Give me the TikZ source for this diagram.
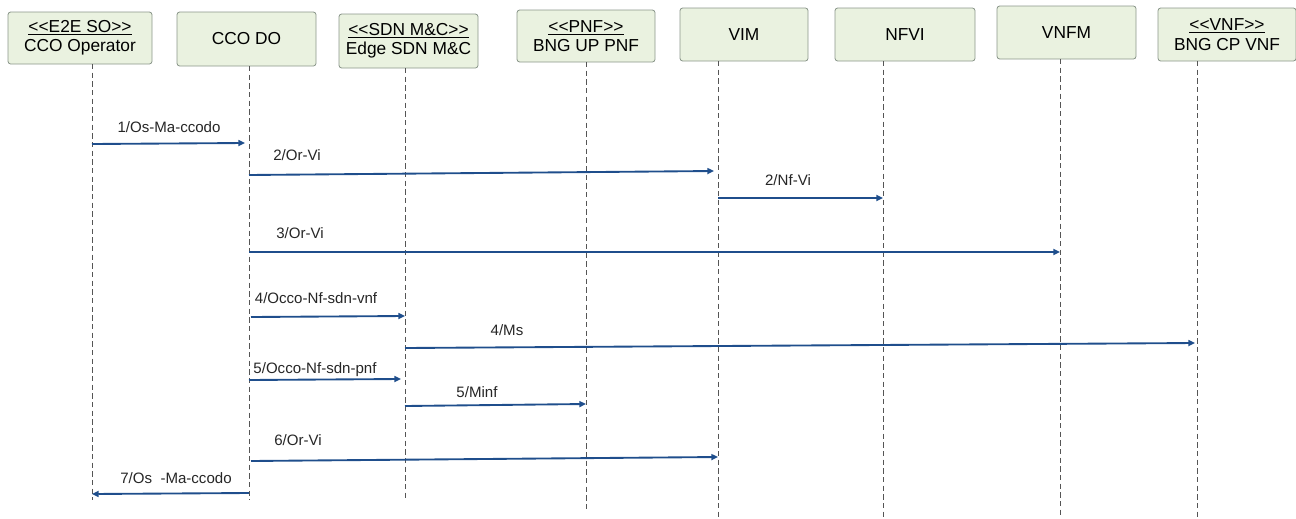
\documentclass[tikz,border=0pt]{standalone}
\usepackage{fontspec}
\setmainfont{Liberation Sans}[Ligatures=NoCommon]
\usetikzlibrary{arrows.meta}
\definecolor{boxfill}{HTML}{EAF2E0}
\definecolor{boxline}{HTML}{8A968A}
\definecolor{msgblue}{HTML}{1F4E8C}
\definecolor{lifegray}{HTML}{555555}
\newcommand{\stereo}[1]{\underline{<{}<#1>{}>}}
\begin{document}
\begin{tikzpicture}[x=0.75pt,y=-0.75pt,
  actor/.style={draw=boxline,fill=boxfill,rounded corners=2pt,line width=0.6pt,
    inner sep=0pt,align=center,font=\fontsize{13}{14.5}\selectfont},
  lifeline/.style={draw=lifegray,line width=0.5pt,dash pattern=on 4pt off 2.5pt},
  msg/.style={draw=msgblue,line width=1.4pt,-{Triangle[length=5pt,width=4.5pt]}},
  lbl/.style={font=\fontsize{11.3}{13}\selectfont,text=black!85,inner sep=0pt}]
\useasboundingbox (0,0) rectangle (1296,518);
% actors
\node[actor,minimum width=144*0.75pt,minimum height=52*0.75pt] (so) at (80,38) {\stereo{E2E SO}\\CCO Operator};
\node[actor,minimum width=139*0.75pt,minimum height=54*0.75pt] (do) at (246.5,39) {CCO DO};
\node[actor,minimum width=139*0.75pt,minimum height=54*0.75pt] (sdn) at (408.5,41) {\stereo{SDN M\&C}\\Edge SDN M\&C};
\node[actor,minimum width=138*0.75pt,minimum height=52*0.75pt] (pnf) at (586,36) {\stereo{PNF}\\BNG UP PNF};
\node[actor,minimum width=128*0.75pt,minimum height=53*0.75pt] (vim) at (744,34.5) {VIM};
\node[actor,minimum width=140*0.75pt,minimum height=53*0.75pt] (nfvi) at (905,34.5) {NFVI};
\node[actor,minimum width=139*0.75pt,minimum height=53*0.75pt] (vnfm) at (1066.5,32.5) {VNFM};
\node[actor,minimum width=138*0.75pt,minimum height=53*0.75pt] (vnf) at (1227,34.5) {\stereo{VNF}\\BNG CP VNF};
% lifeline ends
\coordinate (soE) at (92,500);
\coordinate (doE) at (249,500);
\coordinate (sdnE) at (405,500);
\coordinate (pnfE) at (586,510);
\coordinate (vimE) at (718,518);
\coordinate (nfviE) at (883,518);
\coordinate (vnfmE) at (1060,518);
\coordinate (vnfE) at (1197,518);
\draw[lifeline] (92,64) -- (soE);
\draw[lifeline] (249,66) -- (doE);
\draw[lifeline] (405,68) -- (sdnE);
\draw[lifeline] (586,62) -- (pnfE);
\draw[lifeline] (718,61) -- (vimE);
\draw[lifeline] (883,61) -- (nfviE);
\draw[lifeline] (1060,59) -- (vnfmE);
\draw[lifeline] (1197,61) -- (vnfE);
% message anchors
\coordinate (m1a) at (92,144);   \coordinate (m1b) at (245,143);
\coordinate (m2a) at (249,175);  \coordinate (m2b) at (714,171);
\coordinate (m3a) at (718,198);  \coordinate (m3b) at (883,198);
\coordinate (m4a) at (249,252);  \coordinate (m4b) at (1060,252);
\coordinate (m5a) at (251,317);  \coordinate (m5b) at (405,316);
\coordinate (m6a) at (405,348);  \coordinate (m6b) at (1195,343);
\coordinate (m7a) at (249,380);  \coordinate (m7b) at (401,379);
\coordinate (m8a) at (405,406);  \coordinate (m8b) at (586,404);
\coordinate (m9a) at (251,461);  \coordinate (m9b) at (718,457);
\coordinate (m10a) at (249,493); \coordinate (m10b) at (92,494);
\draw[msg] (m1a) -- (m1b);
\draw[msg] (m2a) -- (m2b);
\draw[msg] (m3a) -- (m3b);
\draw[msg] (m4a) -- (m4b);
\draw[msg] (m5a) -- (m5b);
\draw[msg] (m6a) -- (m6b);
\draw[msg] (m7a) -- (m7b);
\draw[msg] (m8a) -- (m8b);
\draw[msg] (m9a) -- (m9b);
\draw[msg] (m10a) -- (m10b);
% labels
\node[lbl] (l1) at (169,127) {1/Os-Ma-ccodo};
\node[lbl] (l2) at (297,155) {2/Or-Vi};
\node[lbl] (l3) at (788,180) {2/Nf-Vi};
\node[lbl] (l4) at (300,233) {3/Or-Vi};
\node[lbl] (l5) at (316,298) {4/Occo-Nf-sdn-vnf};
\node[lbl] (l6) at (507,330) {4/Ms};
\node[lbl] (l7) at (315,370) {5/Occo-Nf-sdn-pnf};
\node[lbl] (l8) at (477,392) {5/Minf};
\node[lbl] (l9) at (298,440) {6/Or-Vi};
\node[lbl] (l10) at (176,478) {7/Os\ \ -Ma-ccodo};
\end{tikzpicture}
\end{document}
